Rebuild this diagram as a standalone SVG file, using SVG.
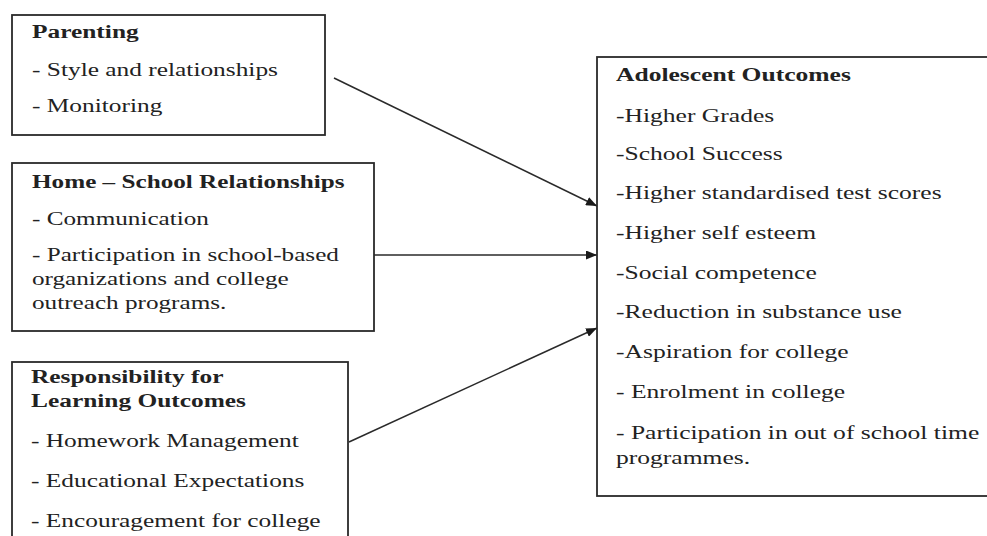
<svg xmlns="http://www.w3.org/2000/svg" width="987" height="536" viewBox="0 0 987 536">
  <style>
    .box { fill: #ffffff; stroke: #2a2a2a; stroke-width: 1.8; }
    .edge { fill: none; stroke: #2a2a2a; stroke-width: 1.5; }
    .t { font-family: "Liberation Serif", "Times New Roman", serif; font-size: 18px; fill: #222; }
    .h { font-weight: bold; }
  </style>
  <defs>
    <marker id="arrow" markerWidth="12" markerHeight="9" refX="11" refY="4.5" orient="auto" markerUnits="userSpaceOnUse">
      <path d="M0,0 L11,4.5 L0,9 Z" fill="#1a1a1a"/>
    </marker>
  </defs>
  <rect width="987" height="536" fill="#ffffff"/>

  <!-- Connectors -->
  <g id="connectors">
    <line class="edge" x1="334" y1="78" x2="597" y2="206" marker-end="url(#arrow)"/>
    <line class="edge" x1="374" y1="255" x2="597" y2="255" marker-end="url(#arrow)"/>
    <line class="edge" x1="349" y1="442" x2="597" y2="328" marker-end="url(#arrow)"/>
  </g>

  <!-- Parenting -->
  <g id="parenting">
    <rect class="box" x="12" y="15" width="313" height="120"/>
    <g transform="translate(32 0) scale(1.41 1)">
      <text class="t h" x="0" y="38">Parenting</text>
      <text class="t" x="0" y="76">- Style and relationships</text>
      <text class="t" x="0" y="112">- Monitoring</text>
    </g>
  </g>

  <!-- Home - School Relationships -->
  <g id="home-school">
    <rect class="box" x="12" y="163" width="362" height="168"/>
    <g transform="translate(32 0) scale(1.4 1)">
      <text class="t h" x="0" y="188">Home – School Relationships</text>
      <text class="t" x="0" y="225">- Communication</text>
      <text class="t" x="0" y="261">- Participation in school-based</text>
      <text class="t" x="0" y="285">organizations and college</text>
      <text class="t" x="0" y="309">outreach programs.</text>
    </g>
  </g>

  <!-- Responsibility for Learning Outcomes -->
  <g id="responsibility">
    <rect class="box" x="12" y="362" width="336" height="190"/>
    <g transform="translate(31 0) scale(1.41 1)">
      <text class="t h" x="0" y="383">Responsibility for</text>
      <text class="t h" x="0" y="407">Learning Outcomes</text>
      <text class="t" x="0" y="447">- Homework Management</text>
      <text class="t" x="0" y="487">- Educational Expectations</text>
      <text class="t" x="0" y="527">- Encouragement for college</text>
    </g>
  </g>

  <!-- Adolescent Outcomes -->
  <g id="outcomes">
    <rect class="box" x="597" y="57" width="400" height="439"/>
    <g transform="translate(616 0) scale(1.42 1)">
      <text class="t h" x="0" y="81">Adolescent Outcomes</text>
      <text class="t" x="0" y="122">-Higher Grades</text>
      <text class="t" x="0" y="160">-School Success</text>
      <text class="t" x="0" y="199">-Higher standardised test scores</text>
      <text class="t" x="0" y="239">-Higher self esteem</text>
      <text class="t" x="0" y="279">-Social competence</text>
      <text class="t" x="0" y="318">-Reduction in substance use</text>
      <text class="t" x="0" y="358">-Aspiration for college</text>
      <text class="t" x="0" y="398">- Enrolment in college</text>
      <text class="t" x="0" y="439">- Participation in out of school time</text>
      <text class="t" x="0" y="464">programmes.</text>
    </g>
  </g>
</svg>
